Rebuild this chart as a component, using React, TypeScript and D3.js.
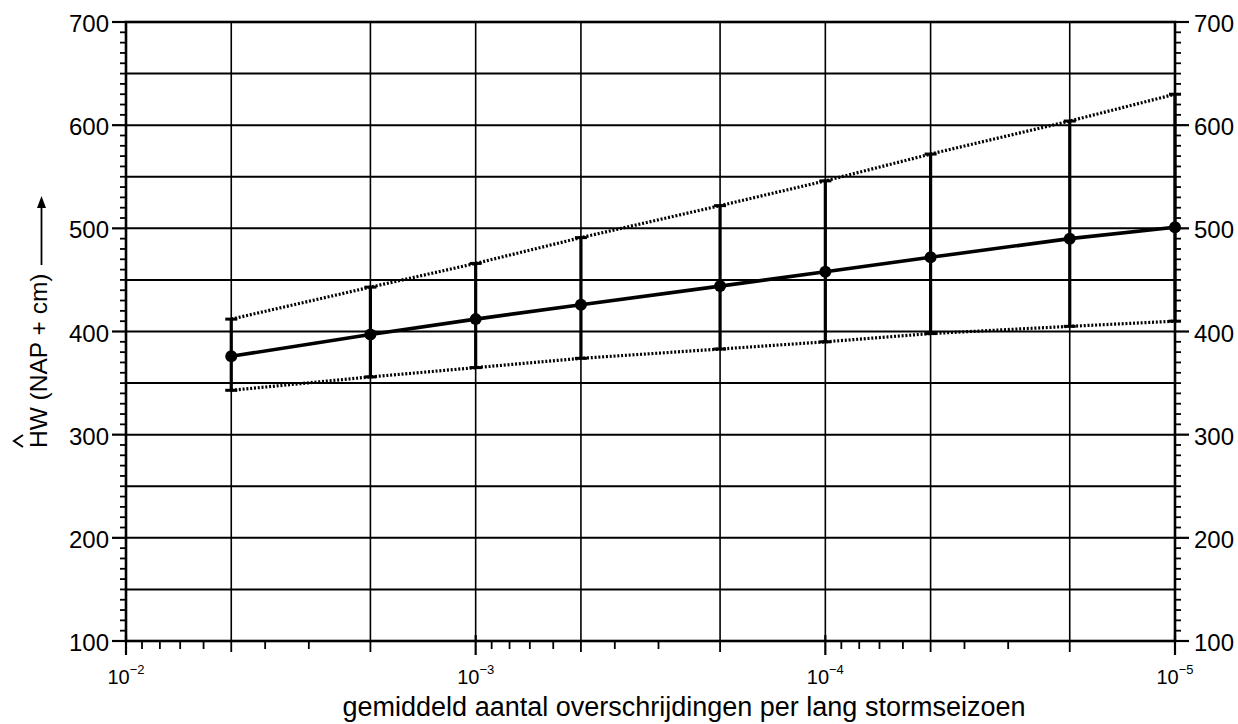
import React from "react";
import * as d3 from "d3";

const X_VALUES = [5e-3, 2e-3, 1e-3, 5e-4, 2e-4, 1e-4, 5e-5, 2e-5, 1e-5];
const MEAN = [376, 397, 412, 426, 444, 458, 472, 490, 501];
const UPPER = [412, 443, 466, 491, 522, 546, 572, 604, 630];
const LOWER = [343, 356, 365, 374, 383, 390, 398, 405, 410];
const Y_TICKS = [100, 200, 300, 400, 500, 600, 700];
const X_DECADE_EXPONENTS = [-2, -3, -4, -5];
const X_TITLE = "gemiddeld aantal overschrijdingen per lang stormseizoen";
const Y_TITLE = "HW (NAP + cm)";

const W = 1238;
const H = 724;
const L = 126, R = 1175, T = 22, B = 641;
const FONT = "'Liberation Sans', Arial, Helvetica, sans-serif";

export default function App() {
  const x = d3.scaleLog().domain([1e-2, 1e-5]).range([L, R]);
  const y = d3.scaleLinear().domain([100, 700]).range([B, T]);

  const hGrid = d3.range(150, 700, 50);
  const vGrid: number[] = [];
  const minorX: number[] = [];
  for (const e of [-3, -4, -5]) {
    for (let m = 2; m <= 9; m++) {
      const v = m * Math.pow(10, e);
      minorX.push(v);
      if (m === 2 || m === 5) vGrid.push(v);
    }
    if (e > -5) vGrid.push(Math.pow(10, e));
  }
  const yMinor = d3.range(100, 701, 10);

  const line = d3.line<number>().x((_, i) => x(X_VALUES[i])).y((d) => y(d));

  return (
    <svg width={W} height={H} style={{ position: "absolute", left: 0, top: 0, background: "#fff" }} fontFamily={FONT}>
      <rect x={0} y={0} width={W} height={H} fill="#fff" />
      {/* grid */}
      {hGrid.map((v) => (
        <line key={"h" + v} x1={L} x2={R} y1={y(v)} y2={y(v)} stroke="#000" strokeWidth={2} />
      ))}
      {vGrid.map((v) => (
        <line key={"v" + v} x1={x(v)} x2={x(v)} y1={T} y2={B} stroke="#000" strokeWidth={1.6} />
      ))}
      {/* frame */}
      <rect x={L} y={T} width={R - L} height={B - T} fill="none" stroke="#000" strokeWidth={2.6} />

      {/* y ticks left & right */}
      {yMinor.map((v) => {
        const major = v % 100 === 0;
        return (
          <g key={"yt" + v}>
            <line x1={L - (major ? 14 : 6)} x2={L} y1={y(v)} y2={y(v)} stroke="#000" strokeWidth={major ? 2.2 : 1.8} />
            <line x1={R} x2={R + (major ? 14 : 6)} y1={y(v)} y2={y(v)} stroke="#000" strokeWidth={major ? 2.2 : 1.8} />
          </g>
        );
      })}
      {Y_TICKS.map((v) => (
        <g key={"yl" + v} fontSize={24} fill="#000">
          <text x={L - 17} y={y(v) + 10} textAnchor="end">{v}</text>
          <text x={R + 19} y={y(v) + 10} textAnchor="start">{v}</text>
        </g>
      ))}

      {/* x ticks */}
      {minorX.map((v) => (
        <line key={"xm" + v} x1={x(v)} x2={x(v)} y1={B} y2={B + (vGrid.includes(v) ? 11 : 8)} stroke="#000" strokeWidth={1.8} />
      ))}
      {X_DECADE_EXPONENTS.map((e) => (
        <g key={"xd" + e}>
          <line x1={x(Math.pow(10, e))} x2={x(Math.pow(10, e))} y1={B - 6} y2={B + 14} stroke="#000" strokeWidth={2.2} />
          <text x={x(Math.pow(10, e))} y={684} textAnchor="middle" fill="#000">
            <tspan fontSize={20}>10</tspan>
            <tspan fontSize={13} dy={-10}>{"\u2212" + Math.abs(e)}</tspan>
          </text>
        </g>
      ))}

      {/* error bars */}
      {X_VALUES.map((v, i) => (
        <g key={"eb" + i} stroke="#000">
          <line x1={x(v)} x2={x(v)} y1={y(UPPER[i])} y2={y(LOWER[i])} strokeWidth={3.2} />
          <line x1={x(v) - 6} x2={x(v) + 6} y1={y(UPPER[i])} y2={y(UPPER[i])} strokeWidth={3} />
          <line x1={x(v) - 6} x2={x(v) + 6} y1={y(LOWER[i])} y2={y(LOWER[i])} strokeWidth={3} />
        </g>
      ))}
      {/* dotted bounds */}
      <path d={line(UPPER) || ""} fill="none" stroke="#000" strokeWidth={3.2} strokeDasharray="2 1.8" />
      <path d={line(LOWER) || ""} fill="none" stroke="#000" strokeWidth={3.2} strokeDasharray="2 1.8" />
      {/* mean line */}
      <path d={line(MEAN) || ""} fill="none" stroke="#000" strokeWidth={3.6} />
      {MEAN.map((v, i) => (
        <circle key={"pt" + i} cx={x(X_VALUES[i])} cy={y(v)} r={6} fill="#000" />
      ))}

      {/* x title */}
      <text x={684} y={716} textAnchor="middle" fontSize={27} fill="#000">{X_TITLE}</text>

      {/* y title */}
      <g transform="translate(47,448) rotate(-90)">
        <text x={0} y={0} fontSize={24.5} fill="#000">{Y_TITLE}</text>
        <path d="M1,-24 L7,-33 L13,-24" fill="none" stroke="#000" strokeWidth={2} />
        <line x1={183} x2={246} y1={-5.5} y2={-5.5} stroke="#000" strokeWidth={1.8} />
        <path d="M240,-10 L252,-5.5 L240,-1 Z" fill="#000" />
      </g>
    </svg>
  );
}
